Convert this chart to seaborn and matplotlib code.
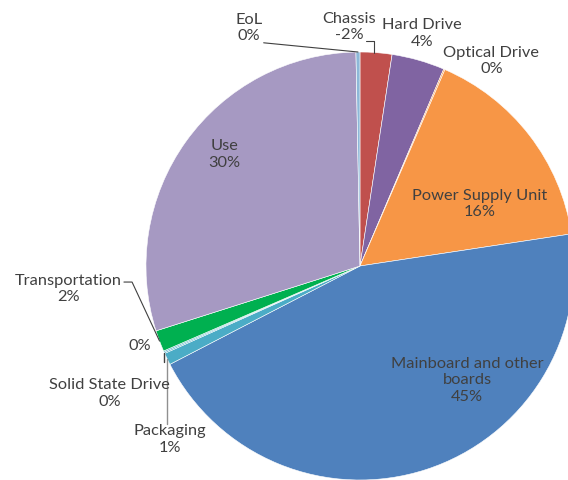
import numpy as np
import seaborn as sns
import matplotlib
matplotlib.use("Agg")
import matplotlib.pyplot as plt

# slices clockwise from 12 o'clock
labels = ["Chassis", "Hard Drive", "Optical Drive", "Power Supply Unit",
          "Mainboard and other\nboards", "Packaging", "Solid State Drive", "",
          "Transportation", "Use", "EoL"]
values = [2.4, 4.0, 0.1, 16.1, 44.8, 0.9, 0.1, 0.1, 1.6, 29.6, 0.3]
pct_text = ["-2%", "4%", "0%", "16%", "45%", "1%", "0%", "0%", "2%", "30%", "0%"]
colors = ["#C0504D", "#8064A2", "#F79646", "#F79646", "#4F81BD", "#4BACC6",
          "#4BACC6", "#4BACC6", "#00B050", "#A699C2", "#8DB8D8"]

sns.set_theme(style="white")
plt.rcParams["font.family"] = ["Lato", "DejaVu Sans"]

fig = plt.figure(figsize=(5.68, 4.80), dpi=100)
ax = fig.add_axes([0, 0, 1, 1])

wedges, _ = ax.pie(values, colors=colors, startangle=90, counterclock=False,
                   radius=1.0, wedgeprops=dict(linewidth=0.4, edgecolor="white"))

ax.set_xlim(-1.682, 0.972)
ax.set_ylim(-1.0, 1.243)
ax.axis("off")

txt_color = "#404040"
fs = 11.8


def edge(i, frac=0.5, r=1.0):
    w = wedges[i]
    a = np.deg2rad(w.theta1 + (w.theta2 - w.theta1) * frac)
    return r * np.cos(a), r * np.sin(a)


# label positions (data units, pie radius = 1)
label_pos = {
    0: (-0.052, 1.117),
    1: (0.290, 1.088),
    2: (0.614, 0.958),
    3: (0.56, 0.29),
    4: (0.50, -0.535),
    5: (-0.89, -0.81),
    6: (-1.17, -0.595),
    7: (-1.028, -0.375),
    8: (-1.364, -0.107),
    9: (-0.635, 0.52),
    10: (-0.518, 1.112),
}

for i, (x, y) in label_pos.items():
    s = pct_text[i] if labels[i] == "" else labels[i] + "\n" + pct_text[i]
    ax.text(x, y, s, ha="center", va="center", fontsize=fs, color=txt_color,
            linespacing=1.25)

# leader lines
lc = "#404040"
ex, ey = edge(10)
ax.plot([-0.45, ex], [1.043, ey], color=lc, lw=0.8)
cx, cy = edge(0, 0.5)
ax.plot([0.03, 0.065, 0.065], [1.05, 1.05, cy], color=lc, lw=0.8)
tx, ty = edge(8, 0.5)
ax.plot([-1.103, -1.065, tx], [-0.075, -0.075, ty], color=lc, lw=0.8)
px, py = edge(5, 0.5)
ax.plot([px, px], [py, -0.74], color="#909090", lw=1.0)
sx, sy = edge(6, 0.5)
ax.plot([sx, sx], [sy, sy - 0.045], color=lc, lw=1.0)

fig.savefig("out.png", dpi=100)
